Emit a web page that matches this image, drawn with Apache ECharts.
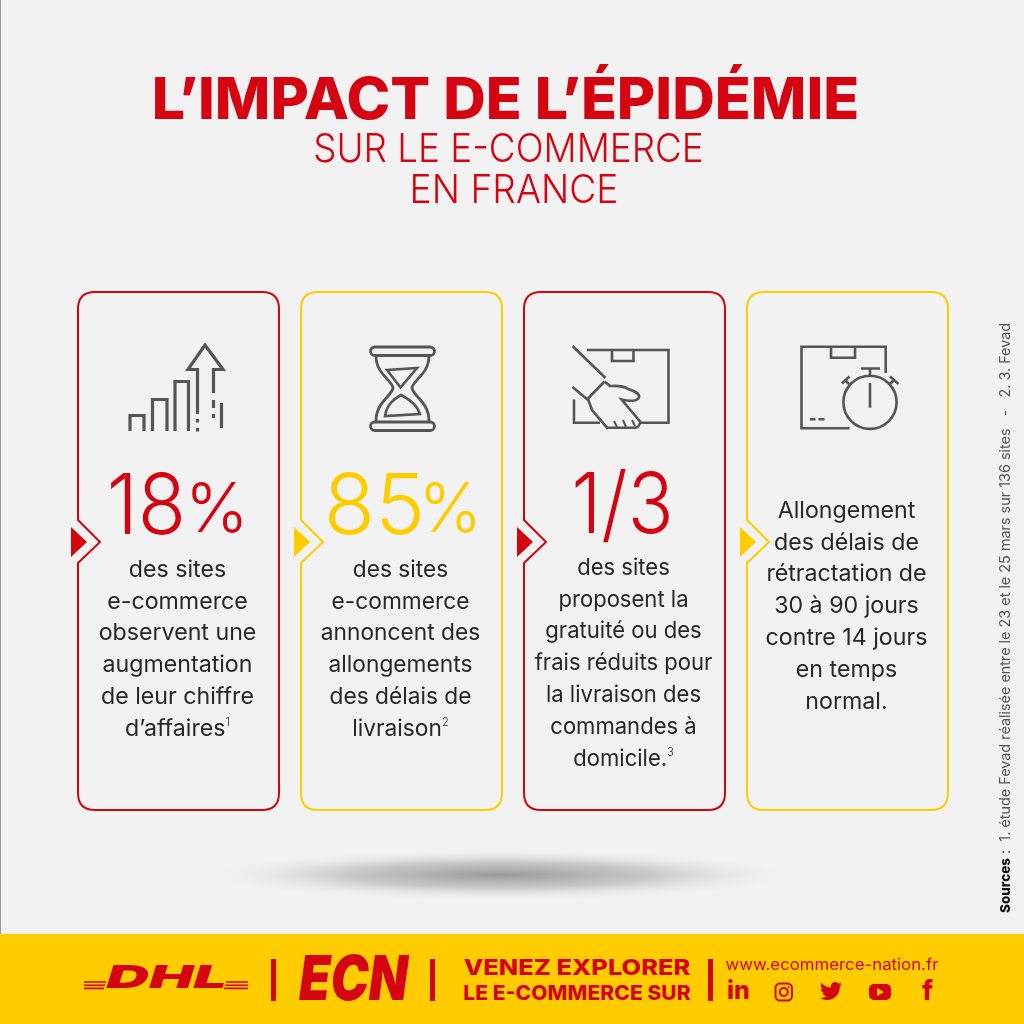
<!DOCTYPE html>
<html lang="fr">
<head>
    <meta charset="UTF-8">
    <title>L'impact de l'épidémie sur le e-commerce en France</title>
    <script src="https://cdn.jsdelivr.net/npm/echarts@6/dist/echarts.min.js"></script>
    <style>
        html, body { margin: 0; padding: 0; background: #f2f2f2; }
    </style>
</head>
<body>
    <div id="main" style="width: 1024px; height: 1024px;"></div>
    <script>
        // contenu
        var titleLine = 'L’IMPACT DE L’ÉPIDÉMIE';
        var subtitleLines = ['SUR LE E-COMMERCE', 'EN FRANCE'];
        var cardFigures = ['18', '85', '1/3', ''];
        var cardUnits = ['%', '%', '', ''];
        var cardBodies = [
            ['des sites', 'e-commerce', 'observent une', 'augmentation', 'de leur chiffre', 'd’affaires¹'],
            ['des sites', 'e-commerce', 'annoncent des', 'allongements', 'des délais de', 'livraison²'],
            ['des sites', 'proposent la', 'gratuité ou des', 'frais réduits pour', 'la livraison des', 'commandes à', 'domicile.³'],
            ['Allongement', 'des délais de', 'rétractation de', '30 à 90 jours', 'contre 14 jours', 'en temps', 'normal.']
        ];
        var sourcesLabel = 'Sources';
        var sourcesText = ' :  1. étude Fevad réalisée entre le 23 et le 25 mars sur 136 sites   -   2. 3. Fevad';
        var bannerLines = ['VENEZ EXPLORER', 'LE E-COMMERCE SUR'];
        var bannerUrl = 'www.ecommerce-nation.fr';

        var RED = '#d40511';
        var YELLOW = '#ffcc00';
        var GREY = '#555555';
        var FONT = 'Inter';
        var cardColors = [RED, YELLOW, RED, YELLOW];
        var cardLeft = [78, 301, 524, 747];
        var cardWidth = 201;
        var bodyTop = [570, 570, 568, 511];
        var bodyStep = 31.8;
        var bodyScale = [1.03, 1.01, 0.98, 1.03];
        var figureRight = [186, 425];
        var figureScale = [0.94, 1];
        var unitLeft = [185, 418.5];
        var superscripts = { '¹': '1', '²': '2', '³': '3' };

        var els = [];
        var pathCount = 0;

        function txt(str, x, y, size, weight, color, o) {
            o = o || {};
            els.push({
                type: 'text',
                x: x,
                y: y,
                scaleX: o.sx || 1,
                scaleY: o.sy || 1,
                rotation: o.rot || 0,
                style: {
                    text: str,
                    fill: color,
                    font: (o.italic ? 'italic ' : '') + weight + ' ' + size + 'px ' + (o.family || FONT),
                    textAlign: o.align || 'center',
                    textVerticalAlign: 'middle',
                    rich: o.rich
                }
            });
        }

        // le composant graphic n'a pas de type "path" : on enregistre chaque tracé
        function pathType(d) {
            var name = 'svgPath' + (pathCount++);
            echarts.graphic.registerShape(name, echarts.graphic.extendPath(d, {}));
            return name;
        }

        function stroke(d, w, color) {
            els.push({
                type: pathType(d),
                style: { fill: 'none', stroke: color || GREY, lineWidth: w || 3, lineJoin: 'miter' }
            });
        }

        function cardPath(l) {
            var r = l + cardWidth, t = 292, b = 810, c = 17;
            return 'M' + l + ' 563 L' + (l + 22) + ' 542 L' + l + ' 520 L' + l + ' ' + (t + c) +
                ' Q' + l + ' ' + t + ' ' + (l + c) + ' ' + t + ' L' + (r - c) + ' ' + t +
                ' Q' + r + ' ' + t + ' ' + r + ' ' + (t + c) + ' L' + r + ' ' + (b - c) +
                ' Q' + r + ' ' + b + ' ' + (r - c) + ' ' + b + ' L' + (l + c) + ' ' + b +
                ' Q' + l + ' ' + b + ' ' + l + ' ' + (b - c) + ' Z';
        }

        // fond
        els.push({ type: 'rect', shape: { x: 0, y: 0, width: 1024, height: 1024 }, style: { fill: '#f2f2f2' } });
        els.push({ type: 'rect', shape: { x: 0, y: 0, width: 1, height: 934 }, style: { fill: '#9a9a9a' } });
        els.push({
            type: 'circle', x: 500, y: 875, scaleY: 0.085,
            shape: { cx: 0, cy: 0, r: 305 },
            style: {
                fill: {
                    type: 'radial', x: 0.5, y: 0.5, r: 0.5,
                    colorStops: [
                        { offset: 0, color: 'rgba(130,130,130,0.8)' },
                        { offset: 0.5, color: 'rgba(160,160,160,0.5)' },
                        { offset: 1, color: 'rgba(242,242,242,0)' }
                    ]
                }
            }
        });
        els.push({ type: 'rect', shape: { x: 0, y: 934, width: 1024, height: 90 }, style: { fill: YELLOW } });

        // titre
        txt(titleLine, 505.5, 102, 58, 800, RED, { sx: 1.017 });
        txt(subtitleLines[0], 508.5, 150, 40, 300, RED, { sx: 0.92 });
        txt(subtitleLines[1], 514, 191, 40, 300, RED, { sx: 0.93 });

        // cartes
        cardLeft.forEach(function (l, i) {
            var mid = l + cardWidth / 2;
            stroke(cardPath(l), 2, cardColors[i]);
            els.push({
                type: 'polygon',
                shape: { points: [[l - 7, 527], [l + 9, 542], [l - 7, 557]] },
                style: { fill: cardColors[i] }
            });
            if (cardUnits[i]) {
                txt(cardFigures[i], figureRight[i], 509, 84, 300, cardColors[i], { align: 'right', sx: figureScale[i] });
                txt(cardUnits[i], unitLeft[i], 512, 68, 300, cardColors[i], { align: 'left' });
            } else if (cardFigures[i]) {
                txt(cardFigures[i], mid - 2, 508, 84, 300, cardColors[i], { sx: 0.9 });
            }
            cardBodies[i].forEach(function (line, j) {
                var marked = line.replace(/[¹²³]/, function (c) { return '{s|' + superscripts[c] + '}'; });
                txt(marked, mid - 1, bodyTop[i] + j * bodyStep, 22.5, 400, '#262626', {
                    sx: bodyScale[i],
                    rich: { s: { font: '300 11px ' + FONT, fill: '#262626', verticalAlign: 'top', lineHeight: 24 } }
                });
            });
        });

        // icône 1 : barres et flèche
        stroke('M130 431 V415.5 H144 V431 M152.5 431 V399.5 H167 V431 M175 431 V381.5 H188.5 V431', 3.2);
        stroke('M197.5 414 V369.5 H188 L205 345 L223 369.5 H213.5 V393', 3.2);
        stroke('M197.5 419 V422.5 M197.5 428 V431.5 M213.5 400 V408 M213.5 414 V418 M221.5 403 V428', 3.2);

        // icône 2 : sablier
        els.push({ type: 'rect', shape: { x: 370.5, y: 347, width: 64, height: 8.5, r: 4.2 }, style: { fill: 'none', stroke: GREY, lineWidth: 2.8 } });
        els.push({ type: 'rect', shape: { x: 370.5, y: 422, width: 64, height: 8.5, r: 4.2 }, style: { fill: 'none', stroke: GREY, lineWidth: 2.8 } });
        stroke('M376 356 C376 374 392 380 393 388 C392 396 376 402 376 421', 2.8);
        stroke('M429 356 C429 374 413 380 412 388 C413 396 429 402 429 421', 2.8);
        stroke('M387 370 L417 368 L400.5 387.5 Z', 2.6);
        stroke('M385 416 C387 404 394 399 401 395 C409 399 417 404 420 414 Z', 2.6);

        // icône 3 : colis et main
        stroke('M587 350 H668.5 V422.7 H640 M574 399.5 V422.7 H600 M612 350 V361 H633.5 V350', 2.6);
        stroke('M572.5 346 L605.5 378 M572.5 387 L588 400 M604.5 381.5 L588 398.5', 2.6);
        stroke('M604.5 381.5 L610 386 C616 386 622 385 628 389 C634 391 640 393 639 397 C638 402 628 401 621.5 399.5 L640 421.5 C640 425 638 427.7 635 427.7 H607 L592 410 L588 399', 2.6);
        stroke('M614 421 L617 427 M623 420 L626 427 M632 420 L635 426', 2);

        // icône 4 : colis et chrono
        stroke('M849.5 428.3 H801.5 V346.7 H885.7 V373 M831 346.7 V357.7 H855 V346.7', 2.6);
        stroke('M810 419.3 H815.5 M818.5 419.3 H824.5', 2.6);
        els.push({ type: 'circle', shape: { cx: 870, cy: 402.3, r: 26.6 }, style: { fill: 'none', stroke: GREY, lineWidth: 2.6 } });
        stroke('M861 368.5 H880 M870 368.5 V376 M870 383 V407.7 M842 383.5 L849.5 376.5 M845 380 L850 385 M890 376.5 L898.5 384 M894 380 L889 385', 2.6);

        // sources
        txt('{b|' + sourcesLabel + '}' + sourcesText, 1006, 913, 14.4, 400, '#555555', {
            align: 'left',
            rot: Math.PI / 2,
            rich: { b: { font: '800 13.5px ' + FONT, fill: '#111111' } }
        });

        // bandeau : logos
        stroke('M84 982 H106 M84 985.2 H105 M84 988.4 H104 M226 982 H248 M225 985.2 H248 M224 988.4 H248', 1.6, RED);
        txt('DHL', 166.5, 978, 32, 900, RED, { italic: true, sx: 1.85 });
        txt('ECN', 353.5, 981, 62, 900, RED, { italic: true, sx: 0.82 });
        [271, 430, 708].forEach(function (x) {
            els.push({ type: 'rect', shape: { x: x, y: 959, width: 5, height: 42 }, style: { fill: RED } });
        });

        txt(bannerLines[0], 577, 968.5, 21, 800, RED, { sx: 1.21 });
        txt(bannerLines[1], 577, 994, 20, 800, RED, { sx: 1.055 });
        txt(bannerUrl, 832, 965, 16, 400, RED, { sx: 1.05 });

        // bandeau : réseaux
        txt('in', 738.5, 991, 25, 800, RED);
        els.push({ type: 'rect', shape: { x: 775.5, y: 983.5, width: 16.5, height: 17, r: 4.5 }, style: { fill: 'none', stroke: RED, lineWidth: 2 } });
        els.push({ type: 'circle', shape: { cx: 783.8, cy: 992, r: 4 }, style: { fill: 'none', stroke: RED, lineWidth: 2 } });
        els.push({ type: 'circle', shape: { cx: 788.5, cy: 987.2, r: 1 }, style: { fill: RED } });
        els.push({
            type: pathType('M23.953 4.57a10 10 0 0 1-2.825.775 4.958 4.958 0 0 0 2.163-2.723c-.951.555-2.005.959-3.127 1.184a4.92 4.92 0 0 0-8.384 4.482C7.69 8.095 4.067 6.13 1.64 3.162a4.822 4.822 0 0 0-.666 2.475c0 1.71.87 3.213 2.188 4.096a4.904 4.904 0 0 1-2.228-.616v.06a4.923 4.923 0 0 0 3.946 4.827 4.996 4.996 0 0 1-2.212.085 4.936 4.936 0 0 0 4.604 3.417 9.867 9.867 0 0 1-6.102 2.105c-.39 0-.779-.023-1.17-.067a13.995 13.995 0 0 0 7.557 2.209c9.053 0 13.998-7.496 13.998-13.985 0-.21 0-.42-.015-.63A9.935 9.935 0 0 0 24 4.59z'),
            x: 820, y: 980, scaleX: 0.92, scaleY: 0.92,
            style: { fill: RED }
        });
        els.push({ type: 'rect', shape: { x: 869, y: 984, width: 22, height: 16, r: 5 }, style: { fill: RED } });
        els.push({ type: 'polygon', shape: { points: [[877, 988], [884, 992], [877, 996]] }, style: { fill: YELLOW } });
        txt('f', 927.5, 992, 27, 800, RED);

        var myChart = echarts.init(document.getElementById('main'));
        myChart.setOption({
            animation: false,
            backgroundColor: '#f2f2f2',
            graphic: { elements: els }
        });
    </script>
</body>
</html>
